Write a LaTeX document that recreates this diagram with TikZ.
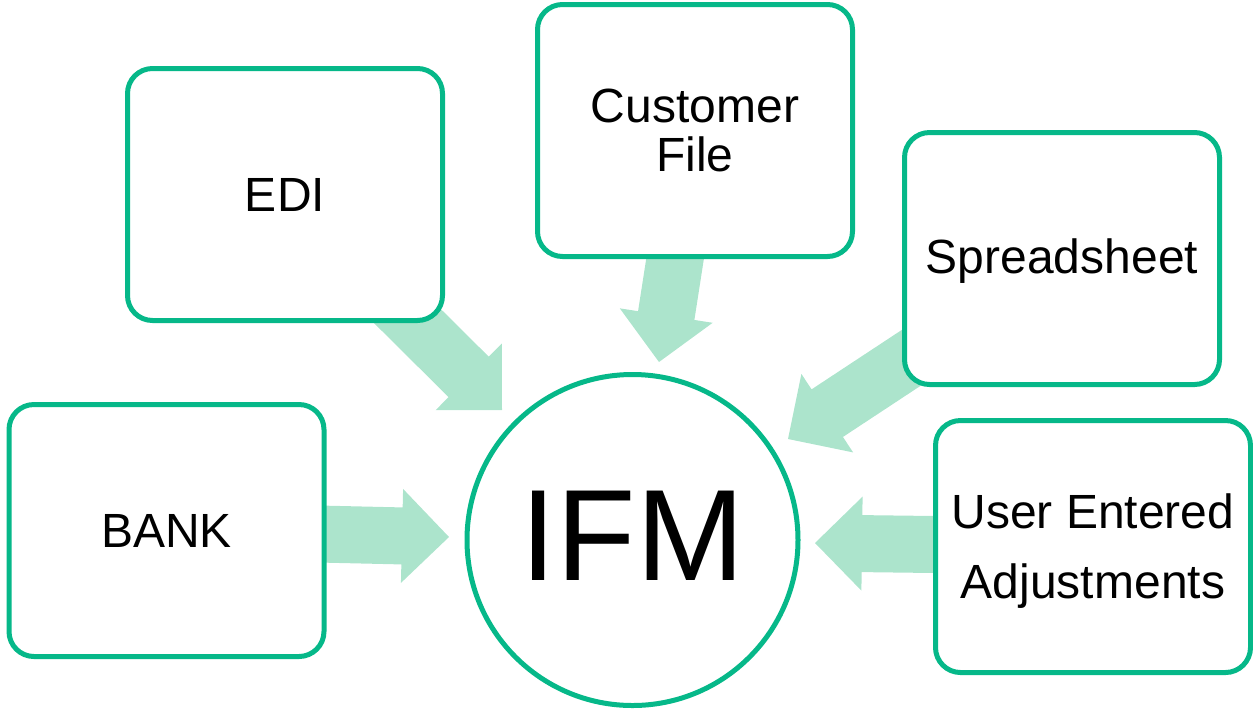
\documentclass[tikz,border=0pt]{standalone}
\usepackage{fontspec}
\setmainfont{Liberation Sans}
\usetikzlibrary{calc}
\definecolor{boxgreen}{RGB}{6,184,137}
\definecolor{arrowgreen}{RGB}{172,228,204}
\pgfdeclarelayer{background}
\pgfsetlayers{background,main}
% #1 source node, #2 tip coordinate, #3 prefix for helper coordinate
\newcommand\fatarrow[3]{%
  \coordinate (#3h) at ($(#2)!23.5pt!(#1.center)$);
  \fill[arrowbody] (#2)
    -- ($(#3h)!23.5pt!90:(#1.center)$)
    -- ($(#3h)!14.25pt!90:(#1.center)$)
    -- ($(#1.center)!14.25pt!-90:(#2)$)
    -- ($(#1.center)!14.25pt!90:(#2)$)
    -- ($(#3h)!14.25pt!-90:(#1.center)$)
    -- ($(#3h)!23.5pt!-90:(#1.center)$)
    -- cycle;}
\tikzset{
  srcbox/.style={draw=boxgreen, line width=2.5pt, fill=white,
    rounded corners=12.5pt, minimum width=157.5pt, minimum height=126pt,
    inner sep=0pt, align=center, font=\fontsize{24}{24.3}\selectfont},
  hubcircle/.style={circle, draw=boxgreen, line width=2.5pt, fill=white,
    minimum size=165.5pt, inner sep=0pt, text height=46.5pt, text depth=6.5pt,
    font=\fontsize{65}{65}\selectfont},
  arrowbody/.style={fill=arrowgreen}
}
\begin{document}
\begin{tikzpicture}[x=0.5pt, y=-0.5pt]
\useasboundingbox (0,0) rectangle (1253,714);
\node[srcbox] (edi) at (285,194.5) {EDI};
\node[srcbox] (cust) at (695,130.5) {Customer\\File};
\node[srcbox, text depth=2pt] (sheet) at (1062,258.5) {Spreadsheet};
\node[srcbox] (bank) at (166.5,530.5) {BANK};
\node[srcbox, text depth=0pt, font=\fontsize{24}{35}\selectfont] (user) at (1093,546.5) {User Entered\\Adjustments};
\node[hubcircle] (ifm) at (632.5,540) {IFM};
\coordinate (tipedi) at (502,410);
\coordinate (tipcust) at (659,362);
\coordinate (tipsheet) at (788,439);
\coordinate (tipbank) at (449,537);
\coordinate (tipuser) at (815,543);
\begin{pgfonlayer}{background}
\fatarrow{edi}{tipedi}{ae}
\fatarrow{cust}{tipcust}{ac}
\fatarrow{sheet}{tipsheet}{as}
\fatarrow{bank}{tipbank}{ab}
\fatarrow{user}{tipuser}{au}
\end{pgfonlayer}
\end{tikzpicture}
\end{document}
